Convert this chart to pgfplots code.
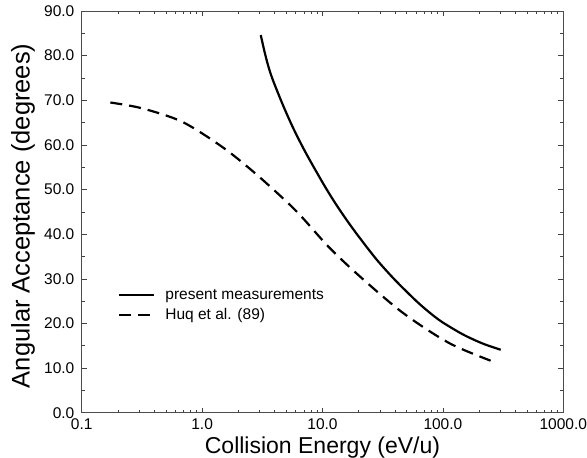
\documentclass[border=0pt]{standalone}
\usepackage{fontspec}
\setmainfont{Liberation Sans}
\usepackage{pgfplots}
\pgfplotsset{compat=1.18}

\newcommand{\tickfont}{\fontsize{15.5}{18}\selectfont}
\newcommand{\xlabfont}{\fontsize{23}{27}\selectfont}
\newcommand{\ylabfont}{\fontsize{25.5}{29}\selectfont}

\begin{document}
\begin{tikzpicture}
\begin{axis}[
  xmode=log, scale only axis,
  width=481.6pt, height=401.7pt,
  xmin=0.1, xmax=1000, ymin=0, ymax=90,
  xtick={0.1,1,10,100,1000},
  xticklabels={0.1,1.0,10.0,100.0,1000.0},
  ytick={0,10,...,90}, minor y tick num=1,
  tick align=inside, major tick length=5pt, minor tick length=3pt,
  every tick/.style={black!75, line width=0.6pt},
  axis line style={black!70, line width=0.8pt},
  /pgf/number format/assume math mode=true,
  ticklabel style={font=\tickfont},
  xticklabel style={yshift=-2.8pt},
  yticklabel style={xshift=-3.8pt, /pgf/number format/fixed,
    /pgf/number format/fixed zerofill, /pgf/number format/precision=1},
  xlabel={Collision Energy (eV/u)},
  ylabel={Angular Acceptance (degrees)},
  xlabel style={font=\xlabfont, at={(axis description cs:0.5,-0.101)}, anchor=base},
  ylabel style={font=\ylabfont, at={(axis description cs:-0.108,0.49)}, anchor=base},
  legend image code/.code={\draw[#1] (0pt,0pt) -- (35pt,0pt);},
  legend cell align=left,
  legend style={draw=none, fill=none, inner sep=0pt, column sep=8pt, row sep=4pt,
    font=\tickfont, nodes={inner sep=2pt},
    at={(axis description cs:0.0754,0.313)}, anchor=north west},
]
% present measurements
\addplot[black, line width=2.2pt, smooth] coordinates {
  (3.07,84.6) (3.39,79.6) (3.78,75.3) (4.68,69.0) (5.75,63.6) (7.24,58.3)
  (10.0,51.6) (12.59,47.2) (15.85,43.2) (19.95,39.5) (28.18,34.3) (39.81,29.8)
  (60.26,25.0) (79.43,22.2) (100,20.2) (147.6,17.5) (213.8,15.5) (302,14.1)
};
\addlegendentry{present measurements}
% Huq et al. (89)
\addplot[black, line width=2.2pt, smooth, dash pattern=on 12pt off 7pt] coordinates {
  (0.173,69.5) (0.317,68.2) (0.681,65.2) (1.46,59.6) (2.77,53.6) (5.94,45.4)
  (11.2,37.2) (20.5,30.5) (46.9,22.3) (114.6,15.5) (276,11.2)
};
\addlegendentry{Huq et al. (89)}
\end{axis}
\pgfresetboundingbox
\path (-81.7pt,-45.3pt) rectangle (505.3pt,412.7pt);
\end{tikzpicture}
\end{document}
